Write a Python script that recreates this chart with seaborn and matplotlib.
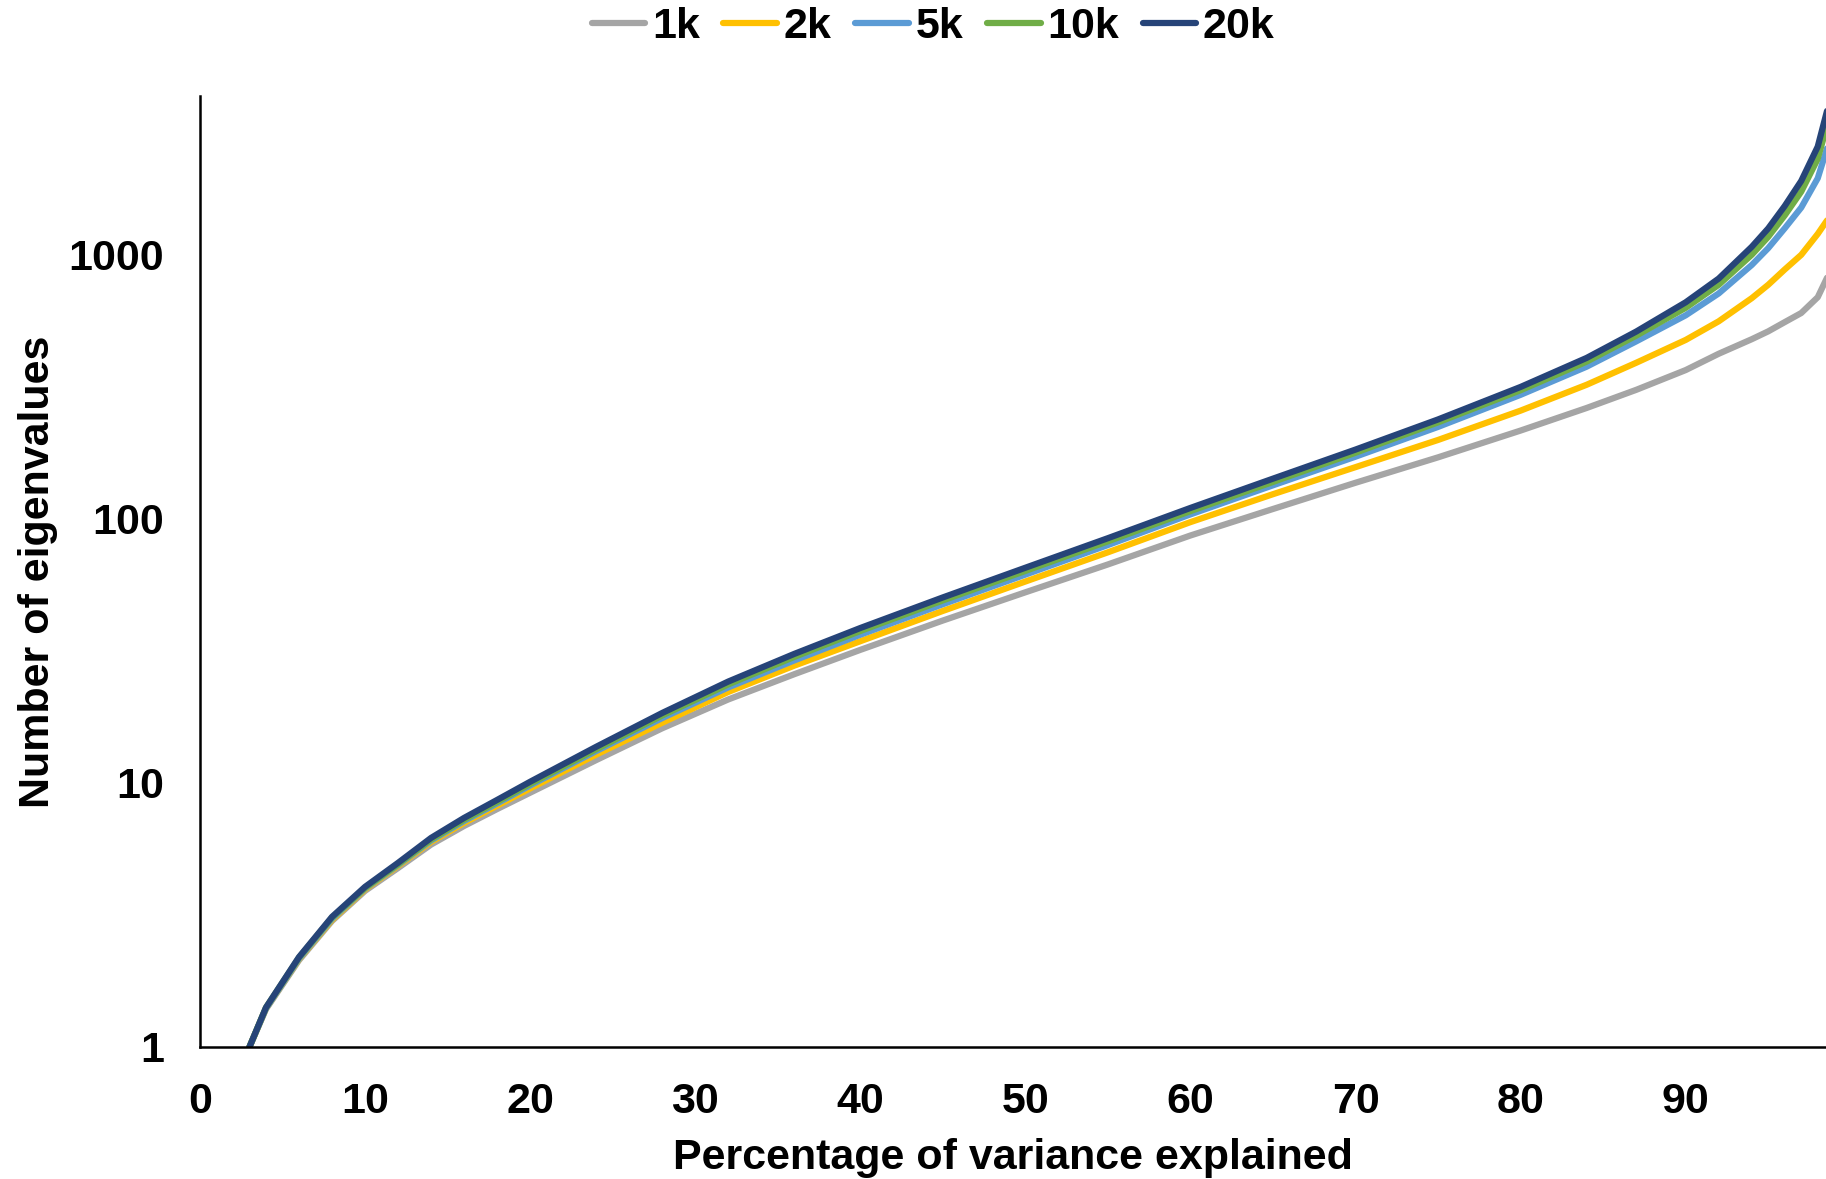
import numpy as np
import pandas as pd
import seaborn as sns
import matplotlib.pyplot as plt
from matplotlib.ticker import FixedLocator, NullLocator

# percentage of variance explained
pct = [3, 4, 6, 8, 10, 12, 14, 16, 18, 20, 24, 28, 32, 36, 40, 45, 50, 55,
       60, 65, 70, 75, 80, 84, 87, 90, 92, 94, 95, 96, 97, 98, 99]

# number of eigenvalues needed, per sample size
n_1k = [1.00, 1.39, 2.13, 3.00, 3.90, 4.76, 5.84, 6.87, 7.96, 9.18, 12.2, 16.1,
        20.7, 25.8, 31.9, 41.2, 52.7, 67.2, 86.5, 109, 137, 171, 216, 263, 308,
        366, 422, 479, 513, 556, 602, 691, 935]
n_2k = [1.00, 1.40, 2.15, 3.03, 3.95, 4.85, 5.98, 7.06, 8.20, 9.53, 12.8, 16.9,
        22.1, 27.8, 34.4, 44.8, 57.9, 74.7, 97.2, 124, 157, 199, 257, 322, 390,
        476, 560, 685, 770, 880, 1000, 1200, 1480]
n_5k = [1.00, 1.40, 2.16, 3.06, 3.98, 4.89, 6.05, 7.17, 8.36, 9.78, 13.2, 17.6,
        23.0, 29.1, 36.4, 47.5, 61.5, 79.6, 104, 134, 172, 223, 295, 377, 470,
        590, 714, 915, 1060, 1260, 1510, 1950, 3100]
n_10k = [1.00, 1.41, 2.18, 3.09, 4.00, 4.92, 6.10, 7.25, 8.47, 9.91, 13.4, 18.0,
         23.6, 30.0, 37.6, 49.1, 63.5, 82.2, 107, 138, 178, 232, 307, 394, 494,
         630, 770, 1000, 1170, 1410, 1735, 2310, 3870]
n_20k = [1.00, 1.41, 2.19, 3.11, 4.04, 4.98, 6.19, 7.37, 8.62, 10.1, 13.7, 18.4,
         24.2, 30.8, 38.6, 50.4, 65.3, 84.5, 110, 142, 183, 238, 316, 407, 512,
         661, 813, 1072, 1259, 1531, 1905, 2570, 4470]

series = ["1k", "2k", "5k", "10k", "20k"]
colors = ["#A5A5A5", "#FFC000", "#5B9BD5", "#70AD47", "#264478"]

frames = []
for name, vals in zip(series, [n_1k, n_2k, n_5k, n_10k, n_20k]):
    frames.append(pd.DataFrame({"pct": pct, "n": vals, "size": name}))
df = pd.concat(frames, ignore_index=True)

sns.set_style("white")
plt.rcParams['font.family'] = ['Liberation Sans', 'DejaVu Sans']
plt.rcParams['font.weight'] = 'bold'
plt.rcParams['text.color'] = 'black'
plt.rcParams['axes.labelcolor'] = 'black'
plt.rcParams['xtick.color'] = 'black'
plt.rcParams['ytick.color'] = 'black'

fs = 31

fig = plt.figure(figsize=(18.26, 11.79), dpi=100)
ax = fig.add_axes([0.1095, 0.112, 0.8905, 0.8067])

sns.lineplot(data=df, x="pct", y="n", hue="size", hue_order=series,
             palette=colors, linewidth=4.5, ax=ax, legend=True)

ax.set_yscale("log")
ax.set_xlim(0, 98.5)
ax.set_ylim(1, 4000)
ax.set_xticks(range(0, 100, 10))
ax.yaxis.set_major_locator(FixedLocator([1, 10, 100, 1000]))
ax.yaxis.set_minor_locator(NullLocator())
ax.set_yticklabels(["1", "10", "100", "1000"])

ax.tick_params(axis="both", length=0, labelsize=fs, colors="black")
ax.tick_params(axis="x", pad=25)
ax.tick_params(axis="y", pad=26)
for lab in ax.get_xticklabels() + ax.get_yticklabels():
    lab.set_fontweight("bold")

ax.set_xlabel("Percentage of variance explained", fontsize=fs,
              fontweight="bold", labelpad=12, color="black")
ax.set_ylabel("Number of eigenvalues", fontsize=fs, fontweight="bold",
              labelpad=7, color="black")

for side in ["top", "right"]:
    ax.spines[side].set_visible(False)
for side in ["left", "bottom"]:
    ax.spines[side].set_color("black")
    ax.spines[side].set_linewidth(1.8)

handles, labels = ax.get_legend_handles_labels()
ax.get_legend().remove()
leg = fig.legend(handles, labels, loc="center", bbox_to_anchor=(0.511, 0.977),
                 ncol=5, frameon=False, handlelength=1.25,
                 handletextpad=0.15, columnspacing=0.55,
                 prop={"weight": "bold", "size": fs})
for line in leg.get_lines():
    line.set_linewidth(4.5)

fig.savefig("out.png", dpi=100)
